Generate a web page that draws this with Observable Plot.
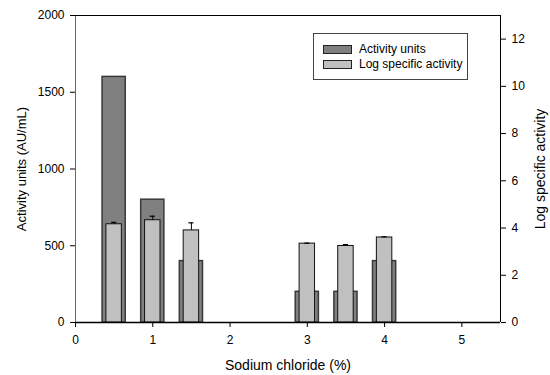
<!DOCTYPE html>
<html>
<head>
<meta charset="utf-8">
<script src="https://cdn.jsdelivr.net/npm/d3@7"></script>
<script src="https://cdn.jsdelivr.net/npm/@observablehq/plot@0.6"></script>
<style>
  html, body { margin: 0; padding: 0; background: #fff; }
  #wrap { position: relative; width: 550px; height: 375px; font-family: "Liberation Sans", Arial, sans-serif; }
  #legend { position: absolute; left: 313px; top: 33px; width: 153px; height: 45px; border: 1px solid #444; background: #fff; font-size: 12px; }
  .item { position: absolute; left: 9px; display: flex; align-items: center; }
  .sw { width: 27px; height: 7px; border: 1px solid #222; margin-right: 7px; }
</style>
</head>
<body>
<div id="wrap"></div>
<script>
// NaCl concentration (%) and measured values
const nacl = [0.5, 1, 1.5, 3, 3.5, 4];
const activityUnits = [1600, 800, 400, 200, 200, 400];        // AU/mL (left axis)
const logSpecific = [4.16, 4.33, 3.9, 3.34, 3.24, 3.6];         // right axis
const logSpecificErr = [0.08, 0.17, 0.32, 0.02, 0.06, 0.03];
const xTicks = [0, 1, 2, 3, 4, 5];
const leftTicks = [0, 500, 1000, 1500, 2000];
const rightTicks = [0, 2, 4, 6, 8, 10, 12];
const seriesNames = ["Activity units", "Log specific activity"];
const seriesColors = ["#808080", "#c0c0c0"];
const xTitle = "Sodium chloride (%)";
const leftTitle = "Activity units (AU/mL)";
const rightTitle = "Log specific activity";

const leftMax = 2000, rightMax = 13;
const toLeft = v => v * leftMax / rightMax;

const rows = nacl.map((x, i) => ({
  x, au: activityUnits[i], ls: logSpecific[i], err: logSpecificErr[i]
}));

const font = "'Liberation Sans', Arial, sans-serif";

const chart = Plot.plot({
  width: 550,
  height: 375,
  marginLeft: 75,
  marginRight: 50,
  marginTop: 15,
  marginBottom: 53,
  style: { fontFamily: font, fontSize: "12px", color: "#000", background: "#fff" },
  x: { domain: [0, 5.5] },
  y: { domain: [0, leftMax] },
  marks: [
    Plot.rectY(rows, { x1: d => d.x - 0.15, x2: d => d.x + 0.15, y1: 0, y2: "au", fill: seriesColors[0], stroke: "#3a3a3a", strokeWidth: 1.5 }),
    Plot.rectY(rows, { x1: d => d.x - 0.1, x2: d => d.x + 0.1, y1: 0, y2: d => toLeft(d.ls), fill: seriesColors[1], stroke: "#111", strokeWidth: 1 }),
    Plot.ruleX(rows, { x: "x", y1: d => toLeft(d.ls), y2: d => toLeft(d.ls + d.err), stroke: "#000", strokeWidth: 1 }),
    Plot.ruleY(rows, { x1: d => d.x - 0.033, x2: d => d.x + 0.033, y: d => toLeft(d.ls + d.err), stroke: "#000", strokeWidth: 1.2 }),
    // frame
    Plot.ruleX([0], { stroke: "#666", strokeWidth: 1 }),
    Plot.ruleX([5.5], { stroke: "#000", strokeWidth: 1 }),
    Plot.ruleY([leftMax], { stroke: "#000", strokeWidth: 1 }),
    Plot.ruleY([0], { stroke: "#000", strokeWidth: 1.5 }),
    // axes
    Plot.axisX({ ticks: xTicks, tickFormat: d => String(d), tickSize: 5, tickPadding: 8, fontSize: 12, fontFamily: font, label: null }),
    Plot.axisY({ ticks: leftTicks, tickFormat: d => String(d), tickSize: 5, tickPadding: 6, fontSize: 12, fontFamily: font, label: null }),
    Plot.axisY({ anchor: "right", ticks: rightTicks.map(toLeft), tickFormat: v => String(Math.round(v * rightMax / leftMax)),
      tickSize: 5, tickPadding: 6, fontSize: 12, fontFamily: font, label: null }),
    // axis titles
    Plot.text([xTitle], { frameAnchor: "bottom", dy: 43, textAnchor: "middle", lineAnchor: "middle", fontSize: 14, fontFamily: font, fill: "#000" }),
    Plot.text([leftTitle], { frameAnchor: "left", dx: -54, rotate: -90, textAnchor: "middle", lineAnchor: "middle", fontSize: 13, fontFamily: font, fill: "#000" }),
    Plot.text([rightTitle], { frameAnchor: "right", dx: 40, rotate: -90, textAnchor: "middle", lineAnchor: "middle", fontSize: 14, fontFamily: font, fill: "#000" })
  ]
});

const wrap = document.getElementById("wrap");
wrap.appendChild(chart);

const legend = document.createElement("div");
legend.id = "legend";
seriesNames.forEach((name, i) => {
  const item = document.createElement("div");
  item.className = "item";
  item.style.top = (i === 0 ? 8 : 23) + "px";
  const sw = document.createElement("span");
  sw.className = "sw";
  sw.style.background = seriesColors[i];
  const t = document.createElement("span");
  t.textContent = name;
  item.appendChild(sw);
  item.appendChild(t);
  legend.appendChild(item);
});
wrap.appendChild(legend);
</script>
</body>
</html>
